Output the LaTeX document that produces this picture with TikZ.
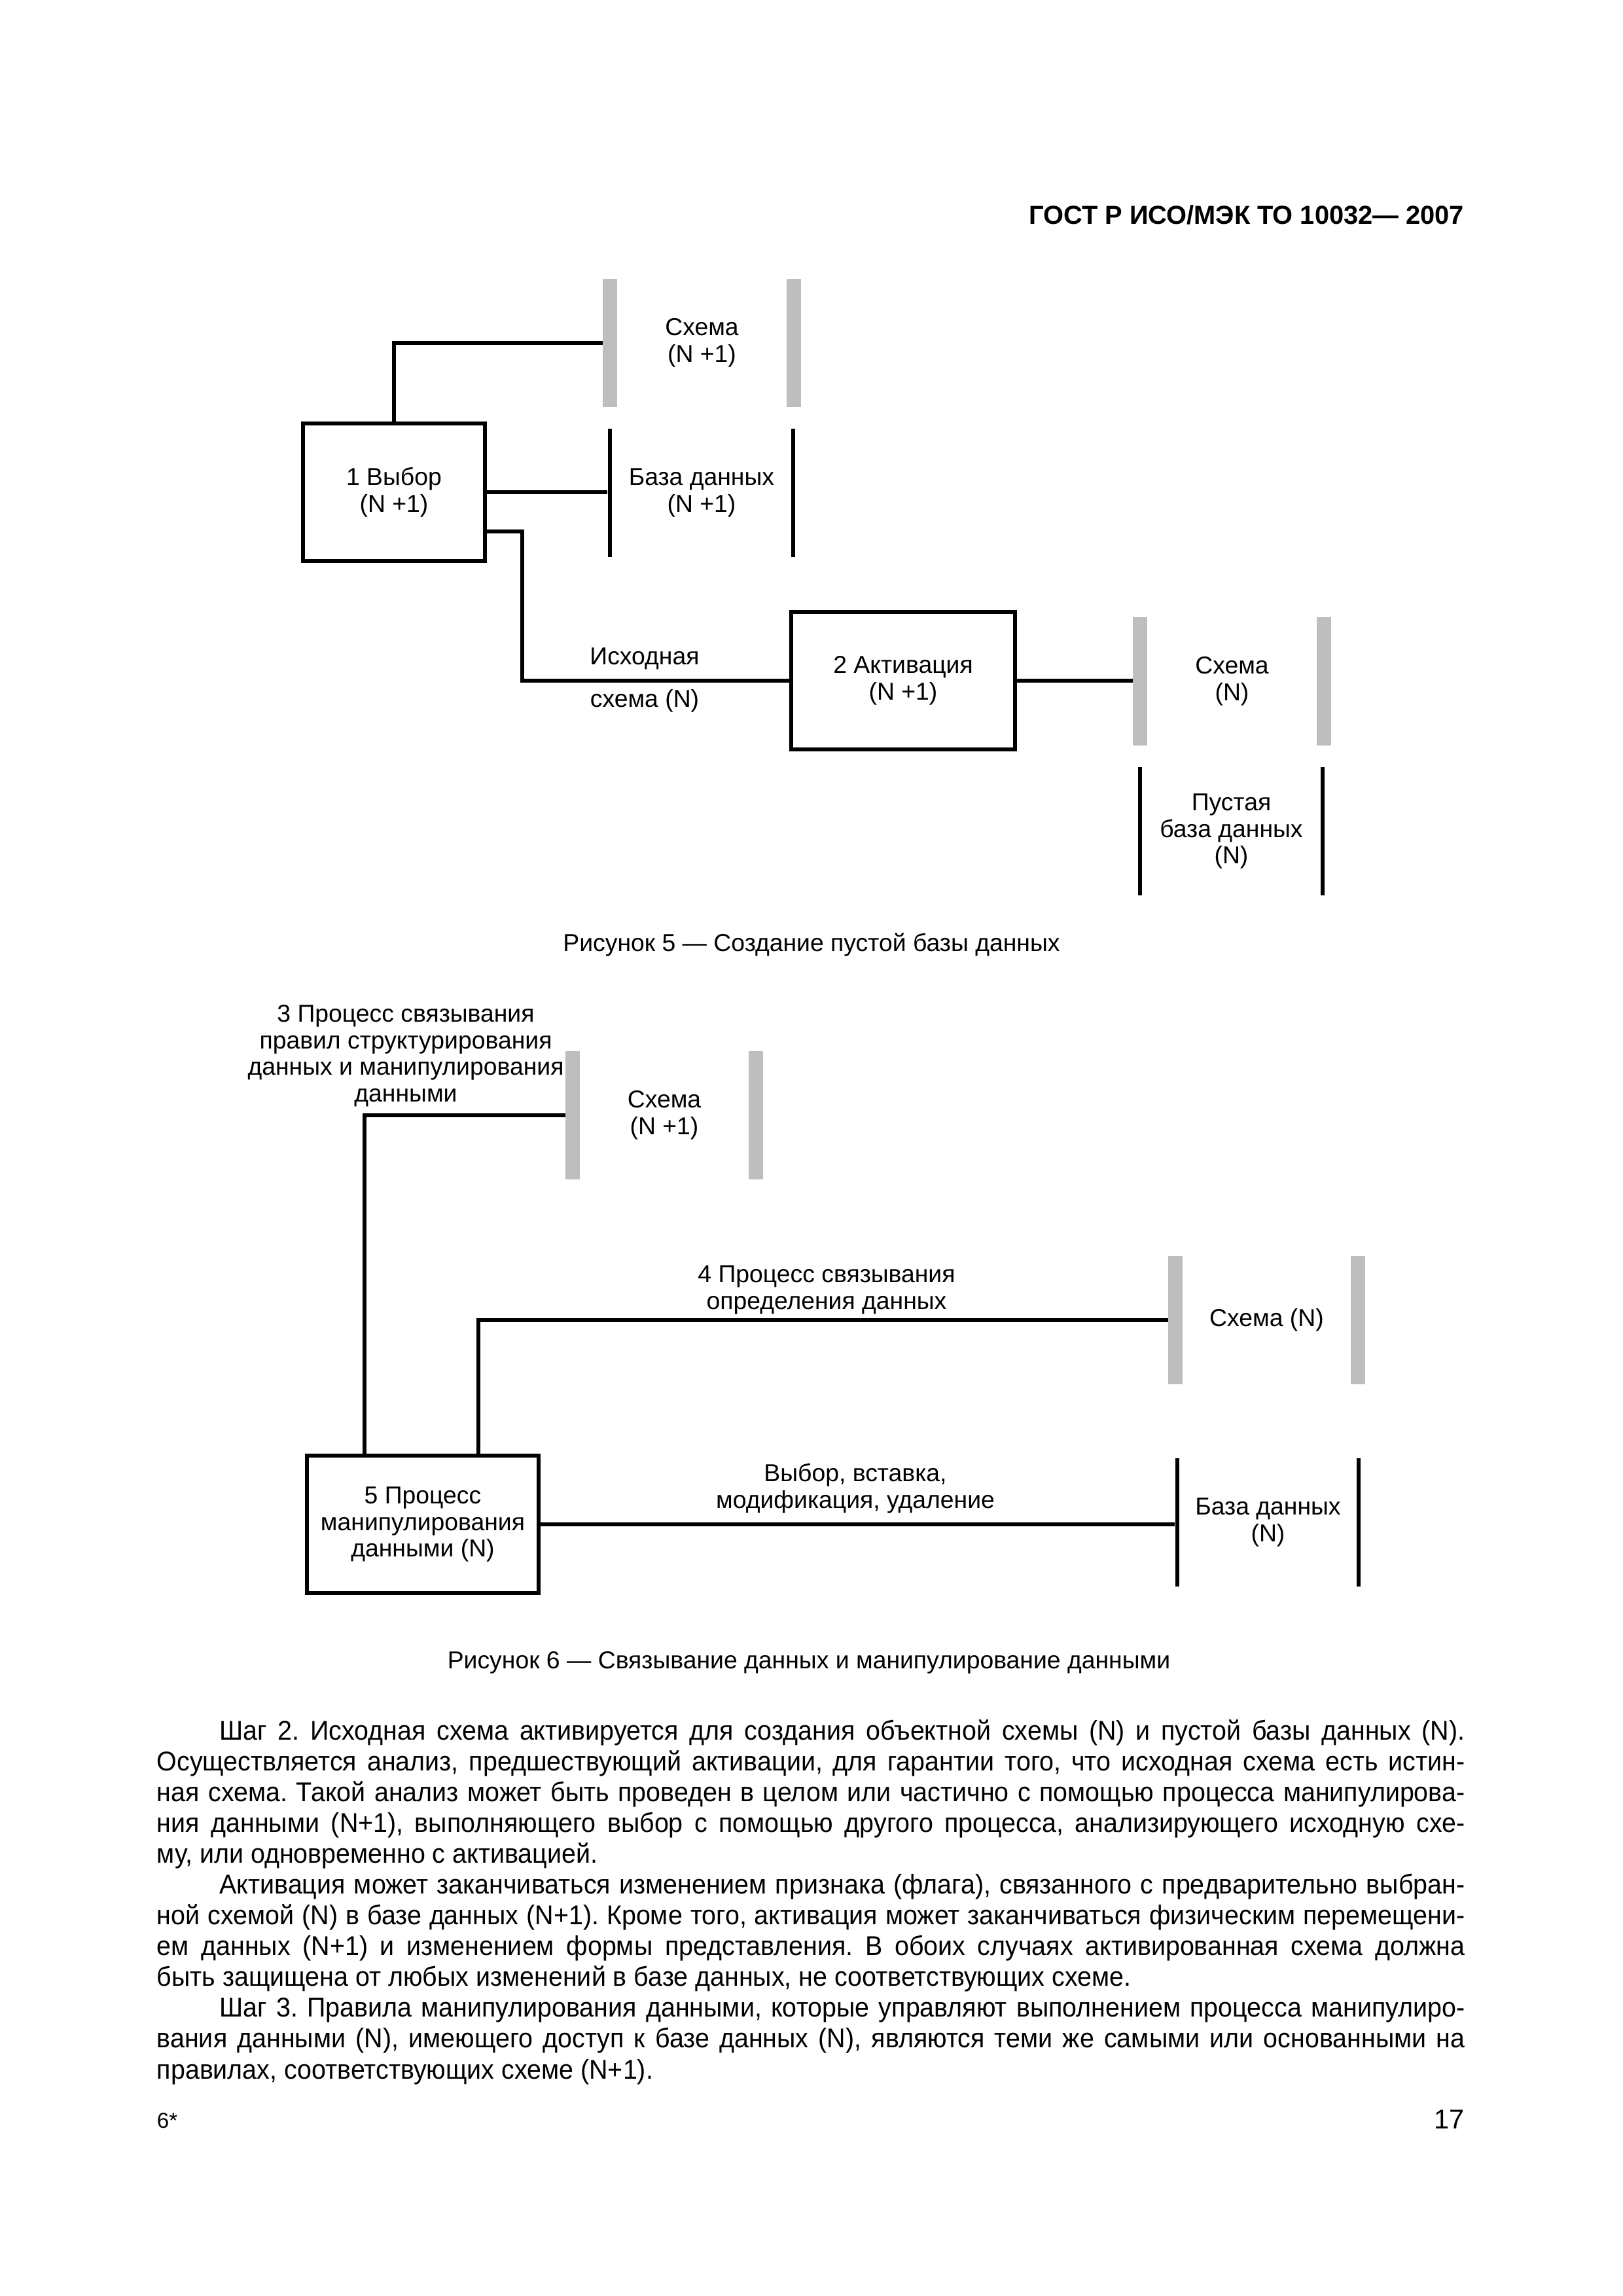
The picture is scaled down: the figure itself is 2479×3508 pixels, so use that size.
\documentclass[tikz,border=0pt]{standalone}
\usepackage{fontspec}
\setmainfont{Liberation Sans}
\newfontfamily\bodyfont[FakeStretch=0.95]{Liberation Sans}
\usetikzlibrary{calc, positioning}
\definecolor{bargray}{RGB}{190,190,190}
\frenchspacing

\begin{document}
\begin{tikzpicture}[
        x=0.08471mm, y=-0.08471mm,
        every node/.style={inner sep=0mm, font=\fontsize{9}{9.8}\selectfont},
        box/.style={draw, line width=1.45pt, minimum height=17.8mm, align=center},
        schemabar/.style={fill=bargray, minimum width=1.8mm, minimum height=16.6mm},
        databar/.style={fill=black, minimum width=0.5mm, minimum height=16.6mm},
        lbl/.style={align=center},
        wire/.style={line width=1.45pt}
    ]
    \useasboundingbox (0,0) rectangle (2479,3508);

    \node[anchor=east, font=\fontsize{9.6}{11}\selectfont\bfseries] (head) at (2238,328) {ГОСТ Р ИСО/МЭК ТО 10032— 2007};

    % figure 5
    \node[schemabar] (s1l) at (932,524) {};
    \node[schemabar] (s1r) at (1213,524) {};
    \node[lbl] (s1txt) at ($(s1l)!0.5!(s1r)$) {Схема\\(N +1)};
    \node[databar] (d1l) at (932,753) {};
    \node[databar] (d1r) at (1212,753) {};
    \node[lbl] (d1txt) at ($(d1l)!0.5!(d1r)$) {База данных\\(N +1)};
    \node[box, minimum width=23.55mm] (sel) at (602,752) {1 Выбор\\(N +1)};
    \node[box, minimum width=29mm] (act) at (1380,1040) {2 Активация\\(N +1)};
    \node[schemabar] (s2l) at (1742,1041) {};
    \node[schemabar] (s2r) at (2023,1041) {};
    \node[lbl] (s2txt) at ($(s2l)!0.5!(s2r)$) {Схема\\(N)};
    \node[databar] (d2l) at (1742,1270) {};
    \node[databar] (d2r) at (2021,1270) {};
    \node[lbl] (d2txt) at ($(d2l)!0.5!(d2r)$) {Пустая\\база данных\\(N)};
    \node[lbl] (src1) at (985,1006) {Исходная};
    \node[lbl] (src2) at (985,1071) {схема (N)};
    \coordinate (srcbend) at (798,812);
    \draw[wire] (sel.north) |- (s1l.west);
    \draw[wire] (sel.east) -- (sel.east -| d1l.west);
    \draw[wire] (sel.east |- srcbend) -- (srcbend) |- (act.west);
    \draw[wire] (act.east) -- (act.east -| s2l.west);
    \node[font=\fontsize{9}{11}\selectfont] (cap5) at (1240,1443) {Рисунок 5 — Создание пустой базы данных};

    % figure 6
    \node[lbl] (bind3) at (620,1613) {3 Процесс связывания\\правил структурирования\\данных и манипулирования\\данными};
    \node[schemabar] (s3l) at (875,1704) {};
    \node[schemabar] (s3r) at (1155,1704) {};
    \node[lbl] (s3txt) at ($(s3l)!0.5!(s3r)$) {Схема\\(N +1)};
    \node[lbl] (bind4) at (1263,1971) {4 Процесс связывания\\определения данных};
    \node[schemabar] (s4l) at (1796,2017) {};
    \node[schemabar] (s4r) at (2075,2017) {};
    \node[lbl] (s4txt) at ($(s4l)!0.5!(s4r)$) {Схема (N)};
    \node[box, minimum width=30mm] (manip) at (646,2329) {5 Процесс\\манипулирования\\данными (N)};
    \node[lbl] (ops) at (1307,2274) {Выбор, вставка,\\модификация, удаление};
    \node[databar] (d5l) at (1799,2326) {};
    \node[databar] (d5r) at (2076,2326) {};
    \node[lbl] (d5txt) at ($(d5l)!0.5!(d5r)$) {База данных\\(N)};
    \draw[wire] ([xshift=-7.55mm]manip.north) |- (s3l.west);
    \draw[wire] ([xshift=7.2mm]manip.north) |- (s4l.west);
    \draw[wire] (manip.east) -- (manip.east -| d5l.west);
    \node[font=\fontsize{9}{11}\selectfont] (cap6) at (1236,2540) {Рисунок 6 — Связывание данных и манипулирование данными};

    % text
    \node[anchor=base west, text width=169.3mm, align=justify, font=\bodyfont\fontsize{10}{11.35}\selectfont] (body) at (239,2658) {%
        \hspace*{8.1mm}Шаг 2. Исходная схема активируется для создания объектной схемы (N) и пустой базы данных (N).\linebreak
        Осуществляется анализ, предшествующий активации, для гарантии того, что исходная схема есть истин-\linebreak
        ная схема. Такой анализ может быть проведен в целом или частично с помощью процесса манипулирова-\linebreak
        ния данными (N+1), выполняющего выбор с помощью другого процесса, анализирующего исходную схе-\linebreak
        му, или одновременно с активацией.\par
        \hspace*{8.1mm}Активация может заканчиваться изменением признака (флага), связанного с предварительно выбран-\linebreak
        ной схемой (N) в базе данных (N+1). Кроме того, активация может заканчиваться физическим перемещени-\linebreak
        ем данных (N+1) и изменением формы представления. В обоих случаях активированная схема должна\linebreak
        быть защищена от любых изменений в базе данных, не соответствующих схеме.\par
        \hspace*{8.1mm}Шаг 3. Правила манипулирования данными, которые управляют выполнением процесса манипулиро-\linebreak
        вания данными (N), имеющего доступ к базе данных (N), являются теми же самыми или основанными на\linebreak
        правилах, соответствующих схеме (N+1).};
    \node[anchor=west, font=\fontsize{8}{9}\selectfont] (sheet) at (239,3240) {6*};
    \node[anchor=east, font=\fontsize{10}{11}\selectfont] (page) at (2238,3238) {17};
\end{tikzpicture}
\end{document}
